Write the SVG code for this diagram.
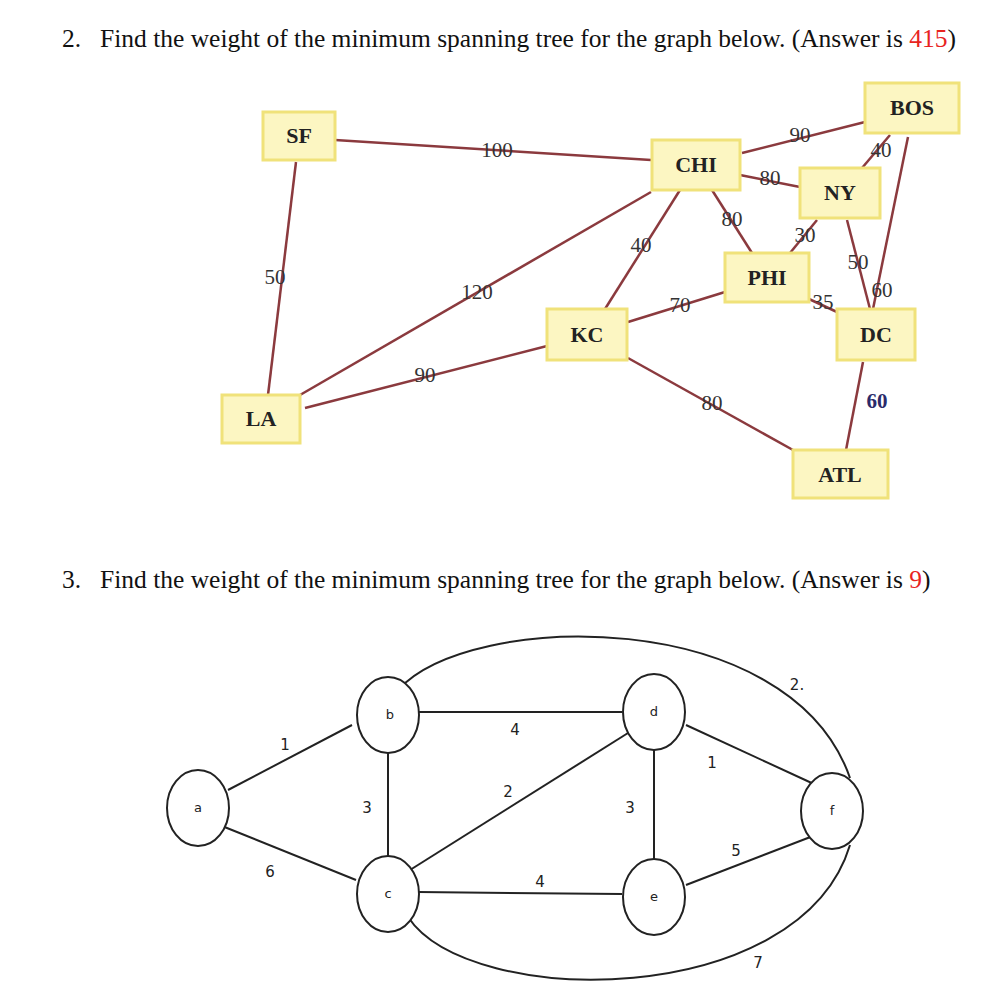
<svg xmlns="http://www.w3.org/2000/svg" width="988" height="1006" viewBox="0 0 988 1006">
<style>
.h{font-family:"Liberation Serif",serif;font-size:25.5px;fill:#111}
.r{fill:#e8231f}
.box{fill:#fcf6c2;stroke:#f0e27a;stroke-width:3}
.bt{font-family:"Liberation Serif",serif;font-size:22px;font-weight:bold;fill:#222;text-anchor:middle}
.e1{stroke:#8b3a3e;stroke-width:2.5;fill:none}
.l1{font-family:"Liberation Serif",serif;font-size:21px;fill:#333;text-anchor:middle}
.nd{fill:#fff;stroke:#222;stroke-width:2}
.nt{font-family:"DejaVu Sans",sans-serif;font-size:13px;fill:#222;text-anchor:middle}
.e2{stroke:#222;stroke-width:2;fill:none}
.l2{font-family:"DejaVu Sans",sans-serif;font-size:15px;fill:#222;text-anchor:middle}
</style>
<rect width="988" height="1006" fill="#fff"/>
<text class="h" x="62" y="47">2.<tspan x="100">Find the weight of the minimum spanning tree for the graph below. (Answer is </tspan><tspan class="r">415</tspan>)</text>
<text class="h" x="62" y="588">3.<tspan x="100">Find the weight of the minimum spanning tree for the graph below. (Answer is </tspan><tspan class="r">9</tspan>)</text>
<g id="connectors">
<line class="e1" x1="335" y1="140" x2="651" y2="160"/>
<line class="e1" x1="296" y1="162" x2="268" y2="395"/>
<line class="e1" x1="300" y1="395" x2="651" y2="192"/>
<line class="e1" x1="305" y1="408" x2="547" y2="346"/>
<line class="e1" x1="680" y1="190" x2="605" y2="309"/>
<line class="e1" x1="712" y1="190" x2="752" y2="253"/>
<line class="e1" x1="740" y1="175" x2="800" y2="187"/>
<line class="e1" x1="742" y1="153" x2="865" y2="122"/>
<line class="e1" x1="862" y1="168" x2="890" y2="135"/>
<line class="e1" x1="817" y1="220" x2="790" y2="253"/>
<line class="e1" x1="847" y1="220" x2="870" y2="309"/>
<line class="e1" x1="908" y1="137" x2="873" y2="309"/>
<line class="e1" x1="809" y1="299" x2="837" y2="312"/>
<line class="e1" x1="628" y1="322" x2="725" y2="292"/>
<line class="e1" x1="628" y1="358" x2="793" y2="450"/>
<line class="e1" x1="863" y1="362" x2="846" y2="450"/>
<g class="l1">
<text x="497" y="157">100</text><text x="275" y="284">50</text><text x="477" y="299">120</text>
<text x="425" y="382">90</text><text x="641" y="252">40</text><text x="732" y="226">80</text>
<text x="770" y="185">80</text><text x="800" y="142">90</text><text x="881" y="157">40</text>
<text x="805" y="242">30</text><text x="858" y="269">50</text><text x="882" y="297">60</text>
<text x="823" y="309">35</text><text x="680" y="312">70</text><text x="712" y="410">80</text>
<text x="877" y="408" style="fill:#2a2a6a;font-weight:bold">60</text>
</g>
<line class="e2" x1="228" y1="790" x2="352" y2="725"/>
<line class="e2" x1="222" y1="826" x2="356" y2="880"/>
<line class="e2" x1="388" y1="753" x2="388" y2="856"/>
<line class="e2" x1="418" y1="712" x2="622" y2="712"/>
<line class="e2" x1="410" y1="870" x2="628" y2="733"/>
<line class="e2" x1="418" y1="892" x2="622" y2="894"/>
<line class="e2" x1="654" y1="750" x2="654" y2="859"/>
<line class="e2" x1="686" y1="725" x2="816" y2="785"/>
<line class="e2" x1="686" y1="885" x2="813" y2="836"/>
<path class="e2" d="M398,690 C470,610 790,605 850,778"/>
<path class="e2" d="M408,917 C470,1010 800,1010 850,845"/>
<g class="l2">
<text x="285" y="750">1</text><text x="270" y="877">6</text><text x="367" y="813">3</text>
<text x="515" y="735">4</text><text x="508" y="797">2</text><text x="630" y="813">3</text>
<text x="712" y="768">1</text><text x="736" y="856">5</text><text x="540" y="887">4</text>
<text x="797" y="690">2.</text><text x="758" y="968">7</text>
</g>
</g>
<g id="SF"><rect class="box" x="263" y="112" width="72" height="48"/><text class="bt" x="299" y="143">SF</text></g>
<g id="CHI"><rect class="box" x="652" y="140" width="88" height="50"/><text class="bt" x="696" y="172">CHI</text></g>
<g id="BOS"><rect class="box" x="865" y="83" width="94" height="50"/><text class="bt" x="912" y="115">BOS</text></g>
<g id="NY"><rect class="box" x="800" y="168" width="80" height="50"/><text class="bt" x="840" y="200">NY</text></g>
<g id="PHI"><rect class="box" x="725" y="253" width="84" height="49"/><text class="bt" x="767" y="285">PHI</text></g>
<g id="KC"><rect class="box" x="547" y="309" width="80" height="51"/><text class="bt" x="587" y="342">KC</text></g>
<g id="DC"><rect class="box" x="837" y="309" width="78" height="51"/><text class="bt" x="876" y="342">DC</text></g>
<g id="ATL"><rect class="box" x="793" y="450" width="95" height="48"/><text class="bt" x="840" y="482">ATL</text></g>
<g id="LA"><rect class="box" x="222" y="395" width="78" height="48"/><text class="bt" x="261" y="426">LA</text></g>
<g id="a"><ellipse class="nd" cx="198" cy="808" rx="31" ry="38"/><text class="nt" x="198" y="812">a</text></g>
<g id="b"><ellipse class="nd" cx="388" cy="715" rx="31" ry="38"/><text class="nt" x="390" y="719">b</text></g>
<g id="c"><ellipse class="nd" cx="388" cy="894" rx="31" ry="38"/><text class="nt" x="388" y="898">c</text></g>
<g id="d"><ellipse class="nd" cx="654" cy="712" rx="31" ry="38"/><text class="nt" x="654" y="716">d</text></g>
<g id="e"><ellipse class="nd" cx="654" cy="897" rx="31" ry="38"/><text class="nt" x="654" y="901">e</text></g>
<g id="f"><ellipse class="nd" cx="832" cy="811" rx="31" ry="38"/><text class="nt" x="832" y="815">f</text></g>
</svg>
